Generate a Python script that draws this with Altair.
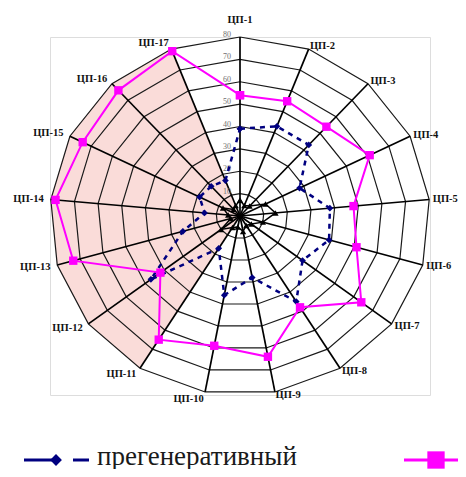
import math
import altair as alt
import pandas as pd

categories = ["ЦП-1", "ЦП-2", "ЦП-3", "ЦП-4", "ЦП-5", "ЦП-6", "ЦП-7", "ЦП-8", "ЦП-9",
              "ЦП-10", "ЦП-11", "ЦП-12", "ЦП-13", "ЦП-14", "ЦП-15", "ЦП-16", "ЦП-17"]
pregenerative = [39, 43, 43, 28, 38, 39, 33, 45, 28, 36, 17, 47, 25, 15, 19, 18, 17]
series_magenta = [54, 55, 54, 61, 48, 51, 64, 48, 64, 59, 65, 42, 73, 78, 74, 76, 79]
series_black = [7, 5, 6, 12, 15, 10, 6, 5, 7, 5, 6, 10, 4, 5, 8, 4, 5]
levels = [10, 20, 30, 40, 50, 60, 70, 80]
tick_labels = ["10", "20", "30", "40", "50", "60", "70", "80"]
shaded = ["ЦП-11", "ЦП-12", "ЦП-13", "ЦП-14", "ЦП-15", "ЦП-16", "ЦП-17"]
legend_names = ["прегенеративный"]

N = len(categories)
RMAX = levels[-1]


def pos(r, i):
    a = 2 * math.pi * i / N
    return r * math.sin(a), r * math.cos(a)


xs = alt.Scale(domain=[-RMAX, RMAX], range=[0, 380], nice=False, zero=False)
ys = alt.Scale(domain=[-RMAX, RMAX], range=[358, 0], nice=False, zero=False)


def X(f="x"):
    return alt.X(f"{f}:Q", scale=xs, axis=None)


def Y(f="y"):
    return alt.Y(f"{f}:Q", scale=ys, axis=None)


# rings
rows = []
for lv in levels:
    for k in range(N + 1):
        x, y = pos(lv, k % N)
        rows.append({"level": lv, "o": k, "x": x, "y": y})
rings_df = pd.DataFrame(rows)

# spokes
rows = []
for i in range(N):
    x, y = pos(RMAX, i)
    rows.append({"x": 0.0, "y": 0.0, "x2": x, "y2": y})
spokes_df = pd.DataFrame(rows)

# shaded sector
rows = [{"o": 0, "x": 0.0, "y": 0.0}]
for k, c in enumerate(shaded):
    i = categories.index(c)
    x, y = pos(RMAX, i)
    rows.append({"o": k + 1, "x": x, "y": y})
sector_df = pd.DataFrame(rows)


def series_df(vals):
    rows = []
    for k in range(N + 1):
        i = k % N
        x, y = pos(vals[i], i)
        rows.append({"o": k, "x": x, "y": y, "v": vals[i], "cat": categories[i]})
    return pd.DataFrame(rows)


pre_df = series_df(pregenerative)
mag_df = series_df(series_magenta)
blk_df = series_df(series_black)

# category labels
rows = []
for i, c in enumerate(categories):
    if i == 0:
        r, side = 87.5, "c"
    elif i <= 8:
        r, side = 81.5, "l"
    else:
        r, side = 83, "r"
    x, y = pos(r, i)
    rows.append({"x": x, "y": y, "t": c, "side": side})
lab_df = pd.DataFrame(rows)

tick_df = pd.DataFrame({"x": [0.0] * len(levels), "y": levels, "t": tick_labels})

base_sector = alt.Chart(sector_df).mark_line(
    interpolate="linear-closed", fill="#fadcd9", stroke="#fadcd9", strokeWidth=0.5
).encode(x=X(), y=Y(), order="o:Q")

rings = alt.Chart(rings_df).mark_line(color="#1a1a1a", strokeWidth=1.2).encode(
    x=X(), y=Y(), detail="level:N", order="o:Q")

spokes = alt.Chart(spokes_df).mark_rule(color="#000000", strokeWidth=1.7).encode(
    x=X(), y=Y(), x2="x2:Q", y2="y2:Q")

ticks = alt.Chart(tick_df).mark_text(
    align="right", baseline="middle", dx=-9, dy=-2, fontSize=8,
    font="Liberation Serif", color="#707070").encode(x=X(), y=Y(), text="t:N")

lab_font = dict(font="Liberation Serif", fontWeight="bold", fontSize=10.5, color="#111111")
labels_c = alt.Chart(lab_df).transform_filter("datum.side == 'c'").mark_text(
    align="center", baseline="middle", **lab_font).encode(x=X(), y=Y(), text="t:N")
labels_l = alt.Chart(lab_df).transform_filter("datum.side == 'l'").mark_text(
    align="left", baseline="middle", **lab_font).encode(x=X(), y=Y(), text="t:N")
labels_r = alt.Chart(lab_df).transform_filter("datum.side == 'r'").mark_text(
    align="right", baseline="middle", **lab_font).encode(x=X(), y=Y(), text="t:N")

blk_line = alt.Chart(blk_df).mark_line(color="#000000", strokeWidth=1.5).encode(
    x=X(), y=Y(), order="o:Q")
blk_pts = alt.Chart(blk_df).mark_point(shape="triangle-up", filled=True, size=40,
                                       color="#000000", opacity=1).encode(x=X(), y=Y())

pre_line = alt.Chart(pre_df).mark_line(color="#000080", strokeWidth=2.5,
                                       strokeDash=[5, 5]).encode(x=X(), y=Y(), order="o:Q")
pre_pts = alt.Chart(pre_df).mark_point(shape="diamond", filled=True, size=45,
                                       color="#000080", opacity=1).encode(x=X(), y=Y())

mag_line = alt.Chart(mag_df).mark_line(color="#ff00ff", strokeWidth=2).encode(
    x=X(), y=Y(), order="o:Q")
mag_pts = alt.Chart(mag_df).mark_point(shape="square", filled=True, size=70,
                                       color="#ff00ff", opacity=1).encode(x=X(), y=Y())

one = pd.DataFrame({"name": legend_names})
leg1 = alt.Chart(one).mark_rule(color="#000080", strokeWidth=3).encode(
    x=alt.value(-26), x2=alt.value(2), y=alt.value(423))
leg2 = alt.Chart(one).mark_point(shape="diamond", filled=True, size=140, color="#000080",
                                 opacity=1).encode(x=alt.value(6), y=alt.value(423))
leg3 = alt.Chart(one).mark_rule(color="#000080", strokeWidth=3).encode(
    x=alt.value(23), x2=alt.value(39), y=alt.value(423))
leg4 = alt.Chart(one).mark_text(align="left", baseline="middle", fontSize=27,
                                font="Liberation Serif", color="#1a1a1a").encode(
    x=alt.value(47), y=alt.value(420), text="name:N")
leg5 = alt.Chart(one).mark_rule(color="#ff00ff", strokeWidth=3).encode(
    x=alt.value(354), x2=alt.value(420), y=alt.value(423))
leg6 = alt.Chart(one).mark_point(shape="square", filled=True, size=300, color="#ff00ff",
                                 opacity=1).encode(x=alt.value(386), y=alt.value(423))

chart = alt.layer(
    base_sector, rings, spokes, ticks, labels_c, labels_l, labels_r,
    blk_line, pre_line, mag_line, blk_pts, pre_pts, mag_pts,
    leg1, leg2, leg3, leg4, leg5, leg6,
).properties(
    width=380, height=358,
    autosize=alt.AutoSizeParams(type="none"),
    padding={"left": 42, "top": 29, "right": 28, "bottom": 74},
).configure_view(stroke=None).configure(background="white")

chart.save("out.html", embed_options={"renderer": "svg", "actions": False})
